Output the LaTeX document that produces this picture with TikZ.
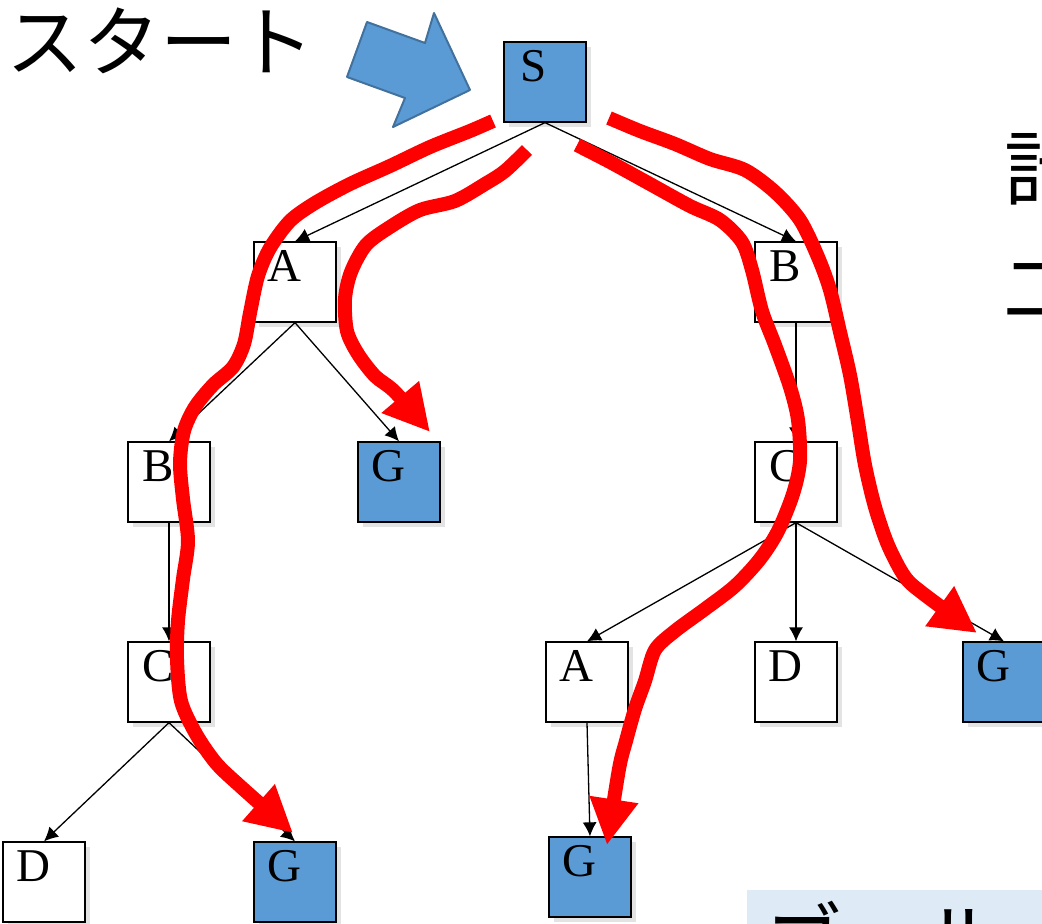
\documentclass[tikz,border=0pt]{standalone}
\usepackage{fontspec}
\setmainfont{Liberation Serif}
\newfontfamily\jpfont{Noto Sans CJK JP}
\usetikzlibrary{arrows.meta,shadows}
\definecolor{boxblue}{HTML}{5B9BD5}
\definecolor{arrowline}{HTML}{41719C}
\definecolor{paleblue}{HTML}{DEEBF7}
\definecolor{shadowgray}{HTML}{E3E3E3}
\definecolor{pathred}{HTML}{FF0000}

% box with its letter placed near the upper left
\newcommand{\mkbox}[5]{%
  \node[#1] (#2) at (#3,#4) {};
  \node[letter] (#2-txt) at ([xshift=-11pt,yshift=-40pt]#2.north) {#5};}

\begin{document}
\begin{tikzpicture}[x=1pt,y=-1pt,
  treebox/.style={draw=black, line width=1.3pt, minimum width=82pt,
    minimum height=80pt, inner sep=0pt, fill=white,
    drop shadow={shadow xshift=5pt, shadow yshift=-5pt, fill=shadowgray, opacity=1}},
  goalbox/.style={treebox, fill=boxblue},
  letter/.style={anchor=base, inner sep=0pt, font=\fontsize{47}{47}\selectfont},
  edge/.style={draw=black, line width=1.3pt, -{Latex[length=14pt,width=14pt]}},
  redpath/.style={draw=pathred, line width=14pt, line join=round, line cap=butt,
    -{Triangle[length=46pt,width=46pt]}},
  jptext/.style={anchor=base west, inner sep=0pt, font=\jpfont\fontsize{#1}{#1}\selectfont},
]
\path[use as bounding box] (0,0) rectangle (1042,924);
\clip (0,0) rectangle (1042,924);

% headings and side text
\node[jptext=77] (start) at (6,70) {スタート};
\node[jptext=82] (side1) at (1004,199) {計};
\node[jptext=76] (side2) at (1003,316) {二};

% start arrow
\path[fill=boxblue, draw=arrowline, line width=2pt, line join=round]
  (367,22) -- (425,43) -- (434,13) -- (470,90) -- (393,127) -- (405,98) -- (347,77) -- cycle;

% goal note box
\fill[paleblue] (747,890) rectangle (1050,930);
\node[jptext=80] (goalnote) at (763,969) {ゴール};

% search tree
\mkbox{goalbox}{S}{545}{82}{S}
\mkbox{treebox}{A1}{295}{282}{A}
\mkbox{treebox}{B1}{796}{282}{B}
\mkbox{treebox}{B2}{169}{482}{B}
\mkbox{goalbox}{G2}{399}{482}{G}
\mkbox{treebox}{C2}{796}{482}{C}
\mkbox{treebox}{C3}{169}{682}{C}
\mkbox{treebox}{A3}{587}{682}{A}
\mkbox{treebox}{D3}{796}{682}{D}
\mkbox{goalbox}{G3}{1004}{682}{G}
\mkbox{treebox}{D4}{44}{882}{D}
\mkbox{goalbox}{G4}{295}{882}{G}
\mkbox{goalbox}{G5}{590}{877}{G}

\draw[edge] (S.south) -- (A1.north);
\draw[edge] (S.south) -- (B1.north);
\draw[edge] (A1.south) -- (B2.north);
\draw[edge] (A1.south) -- (G2.north);
\draw[edge] (B1.south) -- (C2.north);
\draw[edge] (B2.south) -- (C3.north);
\draw[edge] (C2.south) -- (A3.north);
\draw[edge] (C2.south) -- (D3.north);
\draw[edge] (C2.south) -- (G3.north);
\draw[edge] (C3.south) -- (D4.north);
\draw[edge] (C3.south) -- (G4.north);
\draw[edge] (A3.south) -- (G5.north);

% hand-drawn search routes
\draw[redpath] plot[smooth, tension=0.5] coordinates {
  (493,121) (470,131) (430,147) (390,166) (350,184) (315,203) (290,221) (270,248)
  (258,276) (250,313) (244,344) (233,367) (213,385) (195,407) (184,431) (180,463)
  (183,499) (188,541) (183,579) (178,621) (177,659) (181,701) (196,734) (216,763)
  (240,786) (293,833)};
\draw[redpath] plot[smooth, tension=0.5] coordinates {
  (527,150) (505,171) (485,184) (455,201) (420,210) (390,227) (366,245) (351,272)
  (345,299) (347,331) (358,354) (375,376) (395,392) (430,432)};
\draw[redpath] plot[smooth, tension=0.5] coordinates {
  (577,145) (610,162) (650,184) (690,206) (720,220) (742,242) (752,270) (762,311)
  (775,345) (790,387) (798,420) (800,461) (793,494) (778,531) (760,559) (735,586)
  (705,609) (675,631) (655,650) (645,681) (635,709) (626,741) (619,769) (607,845)};
\draw[redpath] plot[smooth, tension=0.5] coordinates {
  (609,118) (640,131) (675,144) (710,159) (745,170) (775,192) (800,220) (818,257)
  (830,290) (840,332) (850,375) (858,422) (865,465) (875,507) (888,545) (905,577)
  (925,595) (977,633)};
\end{tikzpicture}
\end{document}
